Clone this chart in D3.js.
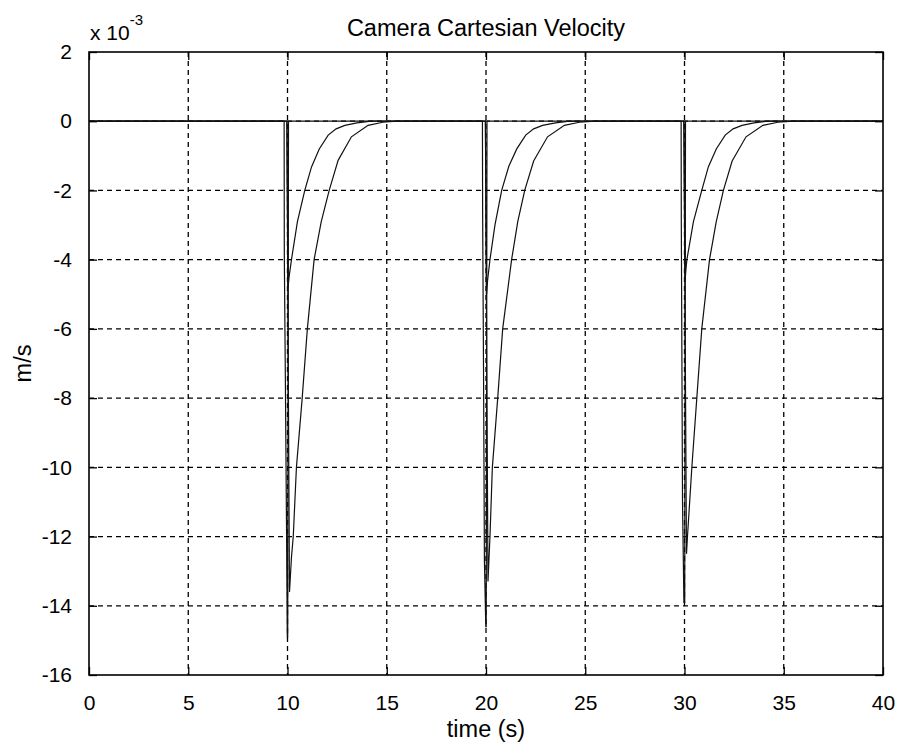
<!DOCTYPE html>
<html>
<head>
<meta charset="utf-8">
<script src="https://cdn.jsdelivr.net/npm/d3@7"></script>
<style>
  body { margin: 0; background: #fff; }
  svg text { font-family: "Liberation Sans", Arial, sans-serif; fill: #000; }
</style>
</head>
<body>
<div id="chart"></div>
<script>
// values are in units of 1e-3 m/s (axis shows "x 10^-3")
const xTicks = [0, 5, 10, 15, 20, 25, 30, 35, 40];
const yTicks = [2, 0, -2, -4, -6, -8, -10, -12, -14, -16];

// fast decaying response [t, v]
const seriesFast = [
  [0, 0], [9.97, 0], [10.03, -4.8], [10.08, -4.5], [10.2, -4.0], [10.5, -2.9], [10.87, -2.0],
  [11.21, -1.32], [11.6, -0.8], [12.05, -0.4], [12.45, -0.22], [12.89, -0.12], [13.5, -0.05], [14.2, 0],
  [19.97, 0], [20.03, -5.0], [20.08, -4.6], [20.2, -4.0], [20.45, -3.0], [20.79, -2.0],
  [21.15, -1.3], [21.55, -0.8], [22.0, -0.4], [22.4, -0.22], [22.85, -0.12], [23.5, -0.05], [24.2, 0],
  [29.97, 0], [30.03, -4.6], [30.07, -4.3], [30.12, -4.0], [30.45, -2.9], [30.87, -2.0],
  [31.2, -1.32], [31.6, -0.8], [32.05, -0.4], [32.45, -0.22], [32.9, -0.12], [33.5, -0.05], [34.2, 0],
  [40, 0]
];

// slow decaying response [t, v]
const seriesSlow = [
  [0, 0], [9.97, 0], [10.1, -13.6], [10.2, -12.6], [10.29, -12], [10.45, -10], [10.74, -8], [11.0, -6],
  [11.34, -4], [11.7, -2.9], [12.1, -2.0], [12.55, -1.13], [13.22, -0.45], [14.06, -0.12], [14.8, -0.03], [15.5, 0],
  [19.97, 0], [20.1, -13.3], [20.2, -12], [20.32, -10], [20.59, -8], [20.84, -6],
  [21.29, -4], [21.6, -2.9], [21.95, -2.0], [22.4, -1.15], [23.1, -0.45], [23.95, -0.12], [24.7, -0.03], [25.5, 0],
  [29.97, 0], [30.1, -12.5], [30.15, -12], [30.37, -10], [30.62, -8], [30.87, -6],
  [31.26, -4], [31.6, -2.9], [31.96, -2.0], [32.4, -1.15], [33.1, -0.45], [33.95, -0.12], [34.7, -0.03], [35.5, 0],
  [40, 0]
];

// short impulse at each step [t, v]
const seriesSpike = [
  [0, 0], [9.83, 0], [9.84, -3.9], [9.9, -8], [9.95, -11.7], [9.99, -14.9], [10.01, -14.9], [10.03, -8], [10.05, 0],
  [19.82, 0], [19.83, -2.6], [19.88, -7.7], [19.92, -12.7], [19.99, -14.6], [20.01, -14.6], [20.03, -8], [20.05, 0],
  [29.83, 0], [29.84, -3.0], [29.9, -11], [29.97, -13.9], [30.01, -13.9], [30.03, -7], [30.05, 0],
  [40, 0]
];

const W = 900, H = 743;
const margin = { top: 52, right: 17, bottom: 68, left: 89 };
const width = W - margin.left - margin.right;
const height = H - margin.top - margin.bottom;

const svg = d3.select('#chart').append('svg').attr('width', W).attr('height', H);
const g = svg.append('g').attr('transform', `translate(${margin.left},${margin.top})`);

const x = d3.scaleLinear().domain([0, 40]).range([0, width]);
const y = d3.scaleLinear().domain([-16, 2]).range([height, 0]);

// dashed grid
g.append('g')
  .selectAll('line')
  .data(xTicks.slice(1, -1))
  .join('line')
  .attr('x1', (d) => x(d)).attr('x2', (d) => x(d))
  .attr('y1', 0).attr('y2', height)
  .attr('stroke', '#000').attr('stroke-width', 1.3).attr('stroke-dasharray', '5,4');
g.append('g')
  .selectAll('line')
  .data(yTicks.slice(1, -1))
  .join('line')
  .attr('x1', 0).attr('x2', width)
  .attr('y1', (d) => y(d)).attr('y2', (d) => y(d))
  .attr('stroke', '#000').attr('stroke-width', 1.3).attr('stroke-dasharray', '5,4');

// curves
const line = d3.line().x((d) => x(d[0])).y((d) => y(d[1]));
[seriesSpike, seriesSlow, seriesFast].forEach((s) => {
  g.append('path')
    .datum(s)
    .attr('d', line)
    .attr('fill', 'none')
    .attr('stroke', '#111')
    .attr('stroke-width', 1.2);
});

// axes with inward ticks, MATLAB style (plain hyphen for negatives)
const tickLen = 8;
const fmt = (d) => String(d);
g.append('g').attr('transform', `translate(0,${height})`)
  .call(d3.axisBottom(x).tickValues(xTicks).tickFormat(fmt).tickSize(-tickLen).tickPadding(tickLen + 12));
g.append('g')
  .call(d3.axisLeft(y).tickValues(yTicks).tickFormat(fmt).tickSize(-tickLen).tickPadding(tickLen + 9));
g.append('g')
  .call(d3.axisTop(x).tickValues(xTicks).tickSize(-tickLen).tickFormat(''));
g.append('g').attr('transform', `translate(${width},0)`)
  .call(d3.axisRight(y).tickValues(yTicks).tickSize(-tickLen).tickFormat(''));

g.selectAll('.domain').remove();
g.selectAll('.tick line').attr('stroke', '#000').attr('stroke-width', 1.3);
g.selectAll('.tick text').style('font-size', '21px').style('font-family', '"Liberation Sans", Arial, sans-serif');

// frame
g.append('rect')
  .attr('width', width).attr('height', height)
  .attr('fill', 'none').attr('stroke', '#000').attr('stroke-width', 1.6);

// exponent label
const expo = svg.append('text').attr('x', margin.left + 1).attr('y', 40).style('font-size', '21px');
expo.append('tspan').text('x 10');
expo.append('tspan').attr('dy', -15).style('font-size', '15px').text('-3');

// title and axis labels
svg.append('text')
  .attr('x', margin.left + width / 2).attr('y', 36)
  .attr('text-anchor', 'middle').style('font-size', '23.5px')
  .text('Camera Cartesian Velocity');
svg.append('text')
  .attr('x', margin.left + width / 2).attr('y', 737)
  .attr('text-anchor', 'middle').style('font-size', '23.5px')
  .text('time (s)');
svg.append('text')
  .attr('transform', `translate(31,${margin.top + height / 2}) rotate(-90)`)
  .attr('text-anchor', 'middle').style('font-size', '23.5px')
  .text('m/s');
</script>
</body>
</html>
